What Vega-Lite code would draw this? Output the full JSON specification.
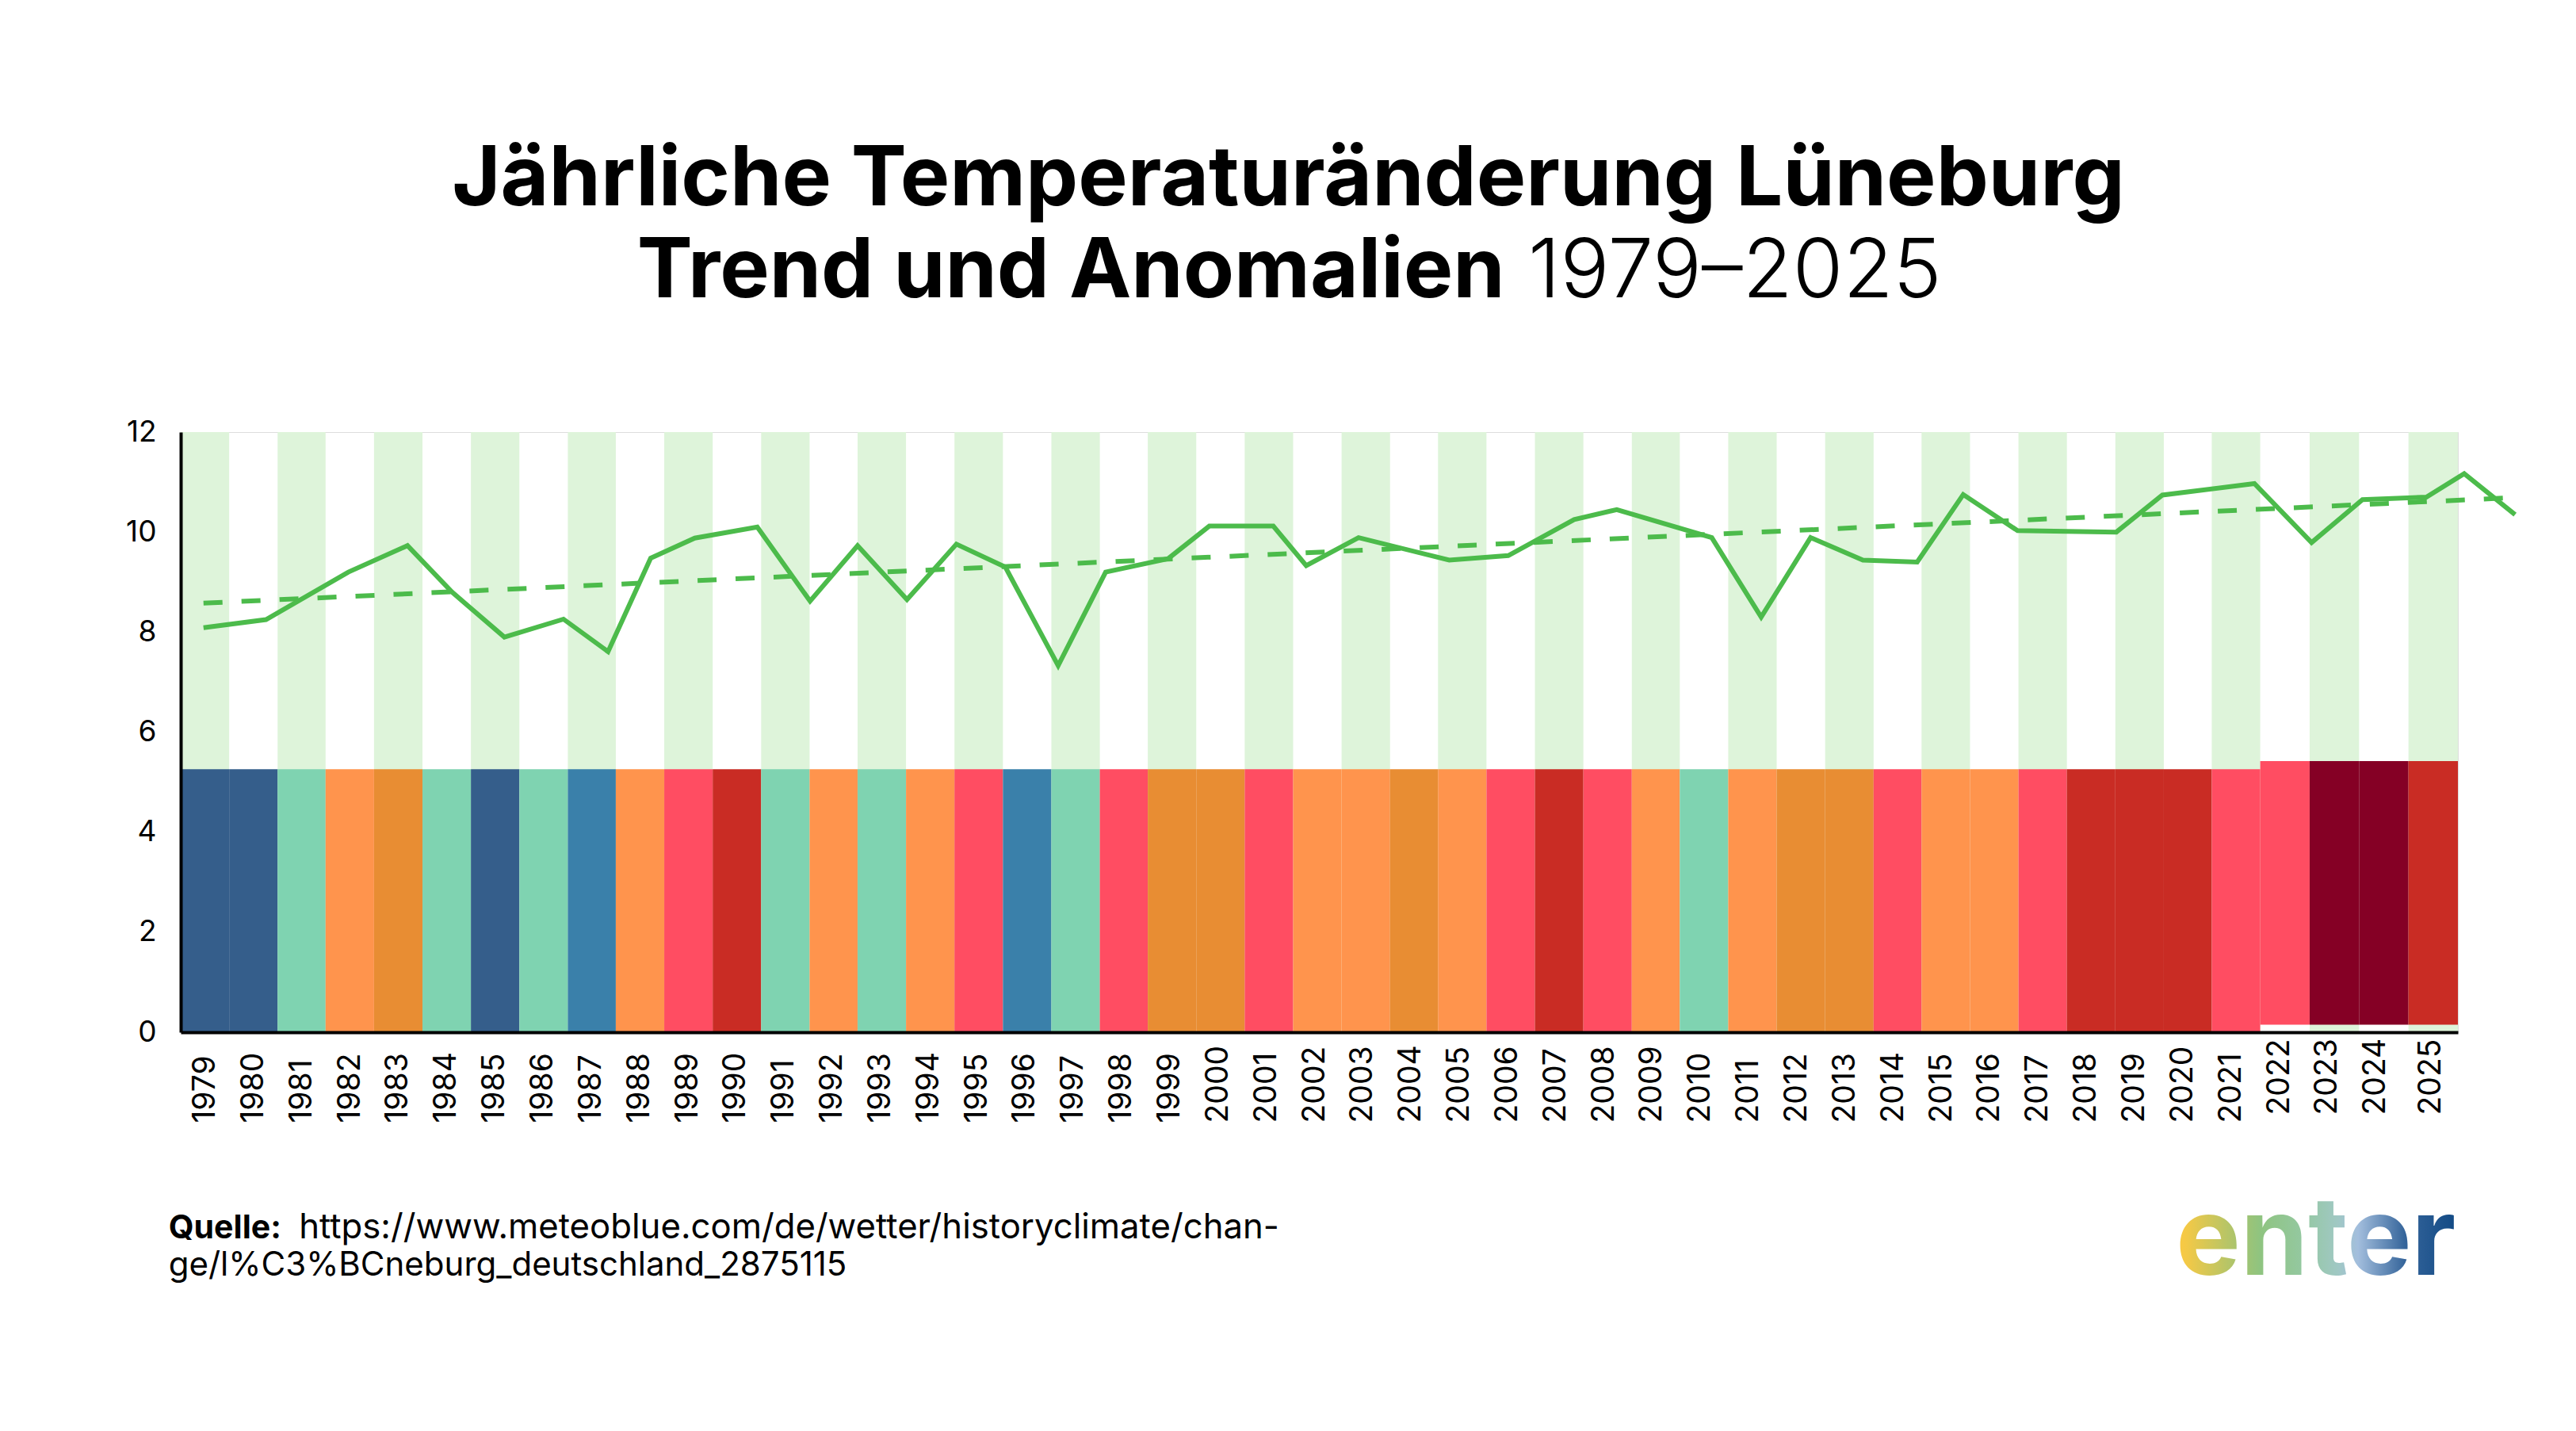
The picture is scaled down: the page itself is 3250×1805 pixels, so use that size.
{
"$schema":"https://vega.github.io/schema/vega-lite/v6.json",
"width":2873,"height":757,
"autosize":{"type":"none"},
"padding":{"left":228,"top":545,"right":149,"bottom":503},
"background":"white",
"title":{"text":"Jährliche Temperaturänderung Lüneburg","anchor":"middle","font":"Inter","fontSize":105,"fontWeight":700,"color":"#000000","baseline":"alphabetic","offset":-73,"dx":-39},
"datasets":{
"balken":[
{"jahr":1979,"von":1978.5,"bis":1979.5,"unten":0,"oben":5.26,"klasse":"kalt2","streifen":true},
{"jahr":1980,"von":1979.5,"bis":1980.5,"unten":0,"oben":5.26,"klasse":"kalt2","streifen":false},
{"jahr":1981,"von":1980.5,"bis":1981.49,"unten":0,"oben":5.26,"klasse":"neutral","streifen":true},
{"jahr":1982,"von":1981.49,"bis":1982.49,"unten":0,"oben":5.26,"klasse":"warm1","streifen":false},
{"jahr":1983,"von":1982.49,"bis":1983.49,"unten":0,"oben":5.26,"klasse":"warm2","streifen":true},
{"jahr":1984,"von":1983.49,"bis":1984.49,"unten":0,"oben":5.26,"klasse":"neutral","streifen":false},
{"jahr":1985,"von":1984.49,"bis":1985.49,"unten":0,"oben":5.26,"klasse":"kalt2","streifen":true},
{"jahr":1986,"von":1985.49,"bis":1986.49,"unten":0,"oben":5.26,"klasse":"neutral","streifen":false},
{"jahr":1987,"von":1986.49,"bis":1987.48,"unten":0,"oben":5.26,"klasse":"kalt1","streifen":true},
{"jahr":1988,"von":1987.48,"bis":1988.48,"unten":0,"oben":5.26,"klasse":"warm1","streifen":false},
{"jahr":1989,"von":1988.48,"bis":1989.48,"unten":0,"oben":5.26,"klasse":"warm3","streifen":true},
{"jahr":1990,"von":1989.48,"bis":1990.48,"unten":0,"oben":5.26,"klasse":"warm4","streifen":false},
{"jahr":1991,"von":1990.48,"bis":1991.48,"unten":0,"oben":5.26,"klasse":"neutral","streifen":true},
{"jahr":1992,"von":1991.48,"bis":1992.47,"unten":0,"oben":5.26,"klasse":"warm1","streifen":false},
{"jahr":1993,"von":1992.47,"bis":1993.47,"unten":0,"oben":5.26,"klasse":"neutral","streifen":true},
{"jahr":1994,"von":1993.47,"bis":1994.47,"unten":0,"oben":5.26,"klasse":"warm1","streifen":false},
{"jahr":1995,"von":1994.47,"bis":1995.47,"unten":0,"oben":5.26,"klasse":"warm3","streifen":true},
{"jahr":1996,"von":1995.47,"bis":1996.47,"unten":0,"oben":5.26,"klasse":"kalt1","streifen":false},
{"jahr":1997,"von":1996.47,"bis":1997.47,"unten":0,"oben":5.26,"klasse":"neutral","streifen":true},
{"jahr":1998,"von":1997.47,"bis":1998.46,"unten":0,"oben":5.26,"klasse":"warm3","streifen":false},
{"jahr":1999,"von":1998.46,"bis":1999.46,"unten":0,"oben":5.26,"klasse":"warm2","streifen":true},
{"jahr":2000,"von":1999.46,"bis":2000.46,"unten":0,"oben":5.26,"klasse":"warm2","streifen":false},
{"jahr":2001,"von":2000.46,"bis":2001.46,"unten":0,"oben":5.26,"klasse":"warm3","streifen":true},
{"jahr":2002,"von":2001.46,"bis":2002.46,"unten":0,"oben":5.26,"klasse":"warm1","streifen":false},
{"jahr":2003,"von":2002.46,"bis":2003.46,"unten":0,"oben":5.26,"klasse":"warm1","streifen":true},
{"jahr":2004,"von":2003.46,"bis":2004.45,"unten":0,"oben":5.26,"klasse":"warm2","streifen":false},
{"jahr":2005,"von":2004.45,"bis":2005.45,"unten":0,"oben":5.26,"klasse":"warm1","streifen":true},
{"jahr":2006,"von":2005.45,"bis":2006.45,"unten":0,"oben":5.26,"klasse":"warm3","streifen":false},
{"jahr":2007,"von":2006.45,"bis":2007.45,"unten":0,"oben":5.26,"klasse":"warm4","streifen":true},
{"jahr":2008,"von":2007.45,"bis":2008.45,"unten":0,"oben":5.26,"klasse":"warm3","streifen":false},
{"jahr":2009,"von":2008.45,"bis":2009.44,"unten":0,"oben":5.26,"klasse":"warm1","streifen":true},
{"jahr":2010,"von":2009.44,"bis":2010.44,"unten":0,"oben":5.26,"klasse":"neutral","streifen":false},
{"jahr":2011,"von":2010.44,"bis":2011.44,"unten":0,"oben":5.26,"klasse":"warm1","streifen":true},
{"jahr":2012,"von":2011.44,"bis":2012.44,"unten":0,"oben":5.26,"klasse":"warm2","streifen":false},
{"jahr":2013,"von":2012.44,"bis":2013.44,"unten":0,"oben":5.26,"klasse":"warm2","streifen":true},
{"jahr":2014,"von":2013.44,"bis":2014.43,"unten":0,"oben":5.26,"klasse":"warm3","streifen":false},
{"jahr":2015,"von":2014.43,"bis":2015.43,"unten":0,"oben":5.26,"klasse":"warm1","streifen":true},
{"jahr":2016,"von":2015.43,"bis":2016.43,"unten":0,"oben":5.26,"klasse":"warm1","streifen":false},
{"jahr":2017,"von":2016.43,"bis":2017.43,"unten":0,"oben":5.26,"klasse":"warm3","streifen":true},
{"jahr":2018,"von":2017.43,"bis":2018.43,"unten":0,"oben":5.26,"klasse":"warm4","streifen":false},
{"jahr":2019,"von":2018.43,"bis":2019.43,"unten":0,"oben":5.26,"klasse":"warm4","streifen":true},
{"jahr":2020,"von":2019.43,"bis":2020.42,"unten":0,"oben":5.26,"klasse":"warm4","streifen":false},
{"jahr":2021,"von":2020.42,"bis":2021.42,"unten":0,"oben":5.26,"klasse":"warm3","streifen":true},
{"jahr":2022,"von":2021.42,"bis":2022.44,"unten":0.15,"oben":5.42,"klasse":"warm3","streifen":false},
{"jahr":2023,"von":2022.44,"bis":2023.46,"unten":0.15,"oben":5.42,"klasse":"warm5","streifen":true},
{"jahr":2024,"von":2023.46,"bis":2024.48,"unten":0.15,"oben":5.42,"klasse":"warm5","streifen":false},
{"jahr":2025,"von":2024.48,"bis":2025.5,"unten":0.15,"oben":5.42,"klasse":"warm4","streifen":true}
],
"temperatur":[
{"x":1978.97,"t":8.09},{"x":1980.26,"t":8.25},{"x":1981.96,"t":9.2},{"x":1983.18,"t":9.73},{"x":1984.1,"t":8.8},{"x":1985.18,"t":7.9},{"x":1986.4,"t":8.26},{"x":1987.32,"t":7.61},{"x":1988.2,"t":9.48},{"x":1989.11,"t":9.88},{"x":1990.4,"t":10.1},{"x":1991.49,"t":8.62},{"x":1992.47,"t":9.73},{"x":1993.49,"t":8.65},{"x":1994.51,"t":9.76},{"x":1995.52,"t":9.3},{"x":1996.61,"t":7.33},{"x":1997.59,"t":9.2},{"x":1998.88,"t":9.47},{"x":1999.73,"t":10.12},{"x":2001.05,"t":10.12},{"x":2001.73,"t":9.33},{"x":2002.81,"t":9.89},{"x":2004.68,"t":9.44},{"x":2005.9,"t":9.53},{"x":2007.26,"t":10.25},{"x":2008.14,"t":10.45},{"x":2010.1,"t":9.89},{"x":2011.12,"t":8.3},{"x":2012.14,"t":9.89},{"x":2013.22,"t":9.44},{"x":2014.34,"t":9.4},{"x":2015.29,"t":10.75},{"x":2016.41,"t":10.03},{"x":2018.45,"t":10.0},{"x":2019.4,"t":10.74},{"x":2021.3,"t":10.97},{"x":2022.48,"t":9.79},{"x":2023.53,"t":10.65},{"x":2024.85,"t":10.7},{"x":2025.63,"t":11.17},{"x":2026.68,"t":10.35}
],
"trend":[{"x":1978.97,"t":8.58},{"x":2026.46,"t":10.68}]
},
"layer":[
{"data":{"name":"balken"},"transform":[{"filter":"datum.streifen"}],
 "mark":{"type":"rect","color":"#DEF4DA"},
 "encoding":{
  "x":{"field":"von","type":"quantitative","scale":{"domain":[1978.5,2025.5],"nice":false,"zero":false},
   "axis":{"title":null,"values":[1979,1980,1981,1982,1983,1984,1985,1986,1987,1988,1989,1990,1991,1992,1993,1994,1995,1996,1997,1998,1999,2000,2001,2002,2003,2004,2005,2006,2007,2008,2009,2010,2011,2012,2013,2014,2015,2016,2017,2018,2019,2020,2021,2022,2023,2024,2025],"format":"d","labelAngle":-90,"labelAlign":"left","labelBaseline":"middle","labelFont":"Inter","labelFontSize":39,"labelColor":"#000000","labelFlush":false,"labelOverlap":false,"ticks":false,"grid":false,"domainColor":"#000000","domainWidth":4,"zindex":1,
    "labelPadding":{"expr":"datum.value>=2022?104:114"},
    "labelOffset":{"expr":"datum.value==2025?-4:(datum.value-1979)*-0.28"}}},
  "x2":{"field":"bis"},
  "y":{"datum":12,"type":"quantitative","scale":{"domain":[0,12],"nice":false},
   "axis":{"title":null,"values":[0,2,4,6,8,10,12],"format":"d","labelFont":"Inter","labelFontSize":37,"labelColor":"#000000","labelPadding":31,"ticks":false,"grid":false,"domainColor":"#000000","domainWidth":4,"zindex":1}},
  "y2":{"datum":0}
 }},
{"data":{"name":"balken"},"mark":{"type":"rect"},
 "encoding":{
  "x":{"field":"von","type":"quantitative"},"x2":{"field":"bis"},
  "y":{"field":"oben","type":"quantitative"},"y2":{"field":"unten"},
  "color":{"field":"klasse","type":"nominal","legend":null,"scale":{"domain":["kalt2","kalt1","neutral","warm1","warm2","warm3","warm4","warm5"],"range":["#355E8B","#3A80AA","#7FD3B1","#FF944D","#E88D33","#FF4D62","#C92C24","#850025"]}}
 }},
{"data":{"name":"trend"},"mark":{"type":"line","color":"#4CBB4B","strokeWidth":6,"strokeDash":[24,24]},
 "encoding":{"x":{"field":"x","type":"quantitative"},"y":{"field":"t","type":"quantitative"}}},
{"data":{"name":"temperatur"},"mark":{"type":"line","color":"#4CBB4B","strokeWidth":6,"strokeJoin":"miter"},
 "encoding":{"x":{"field":"x","type":"quantitative"},"y":{"field":"t","type":"quantitative"}}},
{"data":{"values":[{"x":1987.92,"y":14.69,"text":"Trend und Anomalien"}]},
 "mark":{"type":"text","font":"Inter","fontSize":105,"fontWeight":700,"color":"#000000","align":"left","baseline":"alphabetic"},
 "encoding":{"x":{"field":"x","type":"quantitative"},"y":{"field":"y","type":"quantitative"},"text":{"field":"text"}}},
{"data":{"values":[{"x":2006.31,"y":14.69,"text":"1979–2025"}]},
 "mark":{"type":"text","font":"Inter","fontSize":103,"fontWeight":300,"color":"#000000","align":"left","baseline":"alphabetic"},
 "encoding":{"x":{"field":"x","type":"quantitative"},"y":{"field":"y","type":"quantitative"},"text":{"field":"text"}}},
{"data":{"values":[{"x":1978.25,"y":-4.12,"text":"Quelle:"}]},
 "mark":{"type":"text","font":"Inter","fontSize":41,"fontWeight":700,"color":"#000000","align":"left","baseline":"alphabetic"},
 "encoding":{"x":{"field":"x","type":"quantitative"},"y":{"field":"y","type":"quantitative"},"text":{"field":"text"}}},
{"data":{"values":[{"x":1980.94,"y":-4.12,"text":"https://www.meteoblue.com/de/wetter/historyclimate/chan-"}]},
 "mark":{"type":"text","font":"Inter","fontSize":43.7,"fontWeight":400,"color":"#000000","align":"left","baseline":"alphabetic"},
 "encoding":{"x":{"field":"x","type":"quantitative"},"y":{"field":"y","type":"quantitative"},"text":{"field":"text"}}},
{"data":{"values":[{"x":1978.25,"y":-4.86,"text":"ge/l%C3%BCneburg_deutschland_2875115"}]},
 "mark":{"type":"text","font":"Inter","fontSize":42,"fontWeight":400,"color":"#000000","align":"left","baseline":"alphabetic"},
 "encoding":{"x":{"field":"x","type":"quantitative"},"y":{"field":"y","type":"quantitative"},"text":{"field":"text"}}},
{"data":{"values":[{"x":2019.68,"y":-4.85,"text":"enter"}]},
 "mark":{"type":"text","font":"Inter","fontSize":137,"fontWeight":700,"align":"left","baseline":"alphabetic",
  "color":{"gradient":"linear","x1":0,"x2":1,"y1":0,"y2":0,"stops":[{"offset":0.03,"color":"#F6C945"},{"offset":0.22,"color":"#A9C46E"},{"offset":0.3,"color":"#8FC480"},{"offset":0.45,"color":"#94C8A0"},{"offset":0.58,"color":"#A0C8C4"},{"offset":0.65,"color":"#A3BEDD"},{"offset":0.82,"color":"#34649A"},{"offset":1,"color":"#124A85"}]}},
 "encoding":{"x":{"field":"x","type":"quantitative"},"y":{"field":"y","type":"quantitative"},"text":{"field":"text"}}}
]
}
